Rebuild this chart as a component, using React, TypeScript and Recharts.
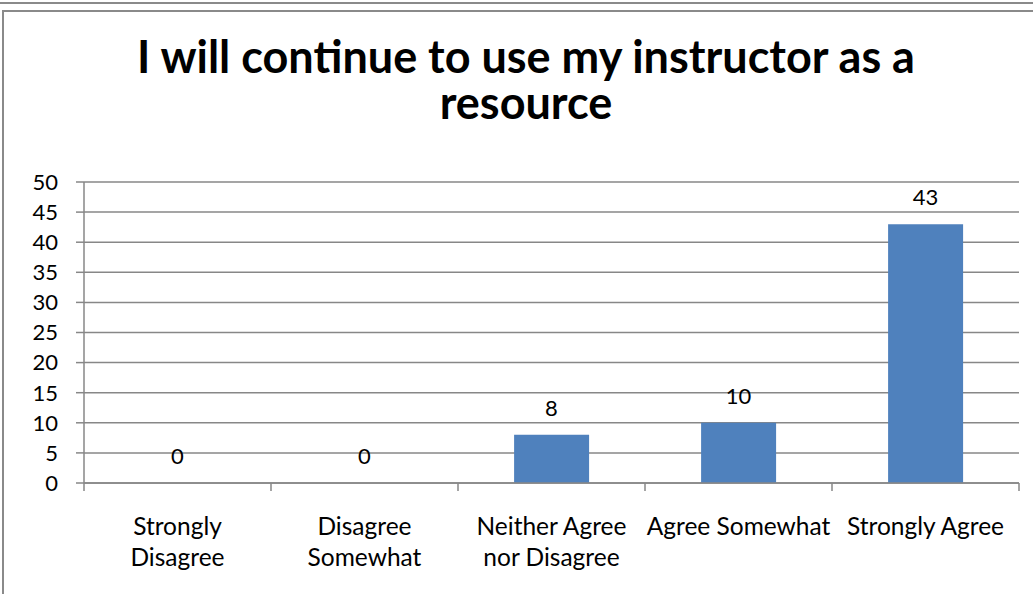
import React from 'react';
import { ComposedChart, Bar, Line, XAxis, YAxis, CartesianGrid, LabelList } from 'recharts';

const titleLines = ['I will continue to use my instructor as a', 'resource'];
const categories = [
  'Strongly Disagree',
  'Disagree Somewhat',
  'Neither Agree nor Disagree',
  'Agree Somewhat',
  'Strongly Agree',
];
const categoryLines = [
  ['Strongly', 'Disagree'],
  ['Disagree', 'Somewhat'],
  ['Neither Agree', 'nor Disagree'],
  ['Agree Somewhat'],
  ['Strongly Agree'],
];
const values = [0, 0, 8, 10, 43];
const yTicks = [0, 5, 10, 15, 20, 25, 30, 35, 40, 45, 50];

const data = categories.map((name, i) => ({ name, value: values[i] }));

const W = 1033;
const H = 594;
const margin = { top: 182, right: 14, bottom: 0, left: 0 };
const xAxisHeight = 111;
const yAxisWidth = 84;
const band = (W - margin.left - margin.right - yAxisWidth) / categories.length;
const FONT = 'Lato, "Open Sans", sans-serif';
const GRAY = '#878787';

const XTick = (props: any) => {
  const { x, y, index } = props;
  const lines = categoryLines[index] || [];
  const last = index === categories.length - 1;
  return (
    <g>
      <line x1={x - band / 2} x2={x - band / 2} y1={y} y2={y + 8} stroke={GRAY} strokeWidth={1.5} />
      {last && (
        <line x1={x + band / 2} x2={x + band / 2} y1={y} y2={y + 8} stroke={GRAY} strokeWidth={1.5} />
      )}
      <text x={x} y={y + 52} textAnchor="middle" fontSize={24.5} fontFamily={FONT} fill="#000">
        {lines.map((l, i) => (
          <tspan key={i} x={x} dy={i === 0 ? 0 : 31}>
            {l}
          </tspan>
        ))}
      </text>
    </g>
  );
};

export default function App() {
  return (
    <div style={{ position: 'absolute', left: 0, top: 0, width: W, height: H, background: '#fff', overflow: 'hidden' }}>
      <div style={{ position: 'absolute', left: 0, top: 2, width: W, height: 2, background: '#8a8a8a' }} />
      <div
        style={{
          position: 'absolute',
          left: 2,
          top: 10,
          width: W + 20,
          height: H + 20,
          border: '2px solid #8a8a8a',
          boxSizing: 'border-box',
        }}
      />
      <svg style={{ position: 'absolute', left: 0, top: 0 }} width={W} height={H}>
        <text x={526} y={73} textAnchor="middle" fontFamily={FONT} fontWeight={700} fontSize={45} fill="#000">
          {titleLines.map((t, i) => (
            <tspan key={i} x={526} dy={i === 0 ? 0 : 46}>
              {t}
            </tspan>
          ))}
        </text>
      </svg>
      <div style={{ position: 'absolute', left: 0, top: 0 }}>
        <ComposedChart width={W} height={H} data={data} margin={margin} barCategoryGap="30%">
          <CartesianGrid vertical={false} stroke={GRAY} strokeWidth={1.5} />
          <XAxis
            dataKey="name"
            tickLine={false}
            tickSize={0}
            tickMargin={0}
            axisLine={{ stroke: GRAY, strokeWidth: 1.5 }}
            tick={<XTick />}
            interval={0}
            height={xAxisHeight}
          />
          <YAxis
            width={yAxisWidth}
            domain={[0, 50]}
            ticks={yTicks}
            interval={0}
            tickSize={8}
            tickMargin={18}
            tickLine={{ stroke: GRAY, strokeWidth: 1.5 }}
            axisLine={{ stroke: GRAY, strokeWidth: 1.5 }}
            tick={{ fontSize: 22, fill: '#000', fontFamily: FONT }}
          />
          <Bar dataKey="value" fill="#4F81BD" isAnimationActive={false} />
          <Line
            dataKey="value"
            stroke="none"
            dot={false}
            activeDot={false}
            legendType="none"
            isAnimationActive={false}
          >
            <LabelList dataKey="value" position="top" offset={19} fontSize={22} fill="#000" fontFamily={FONT} />
          </Line>
        </ComposedChart>
      </div>
    </div>
  );
}
